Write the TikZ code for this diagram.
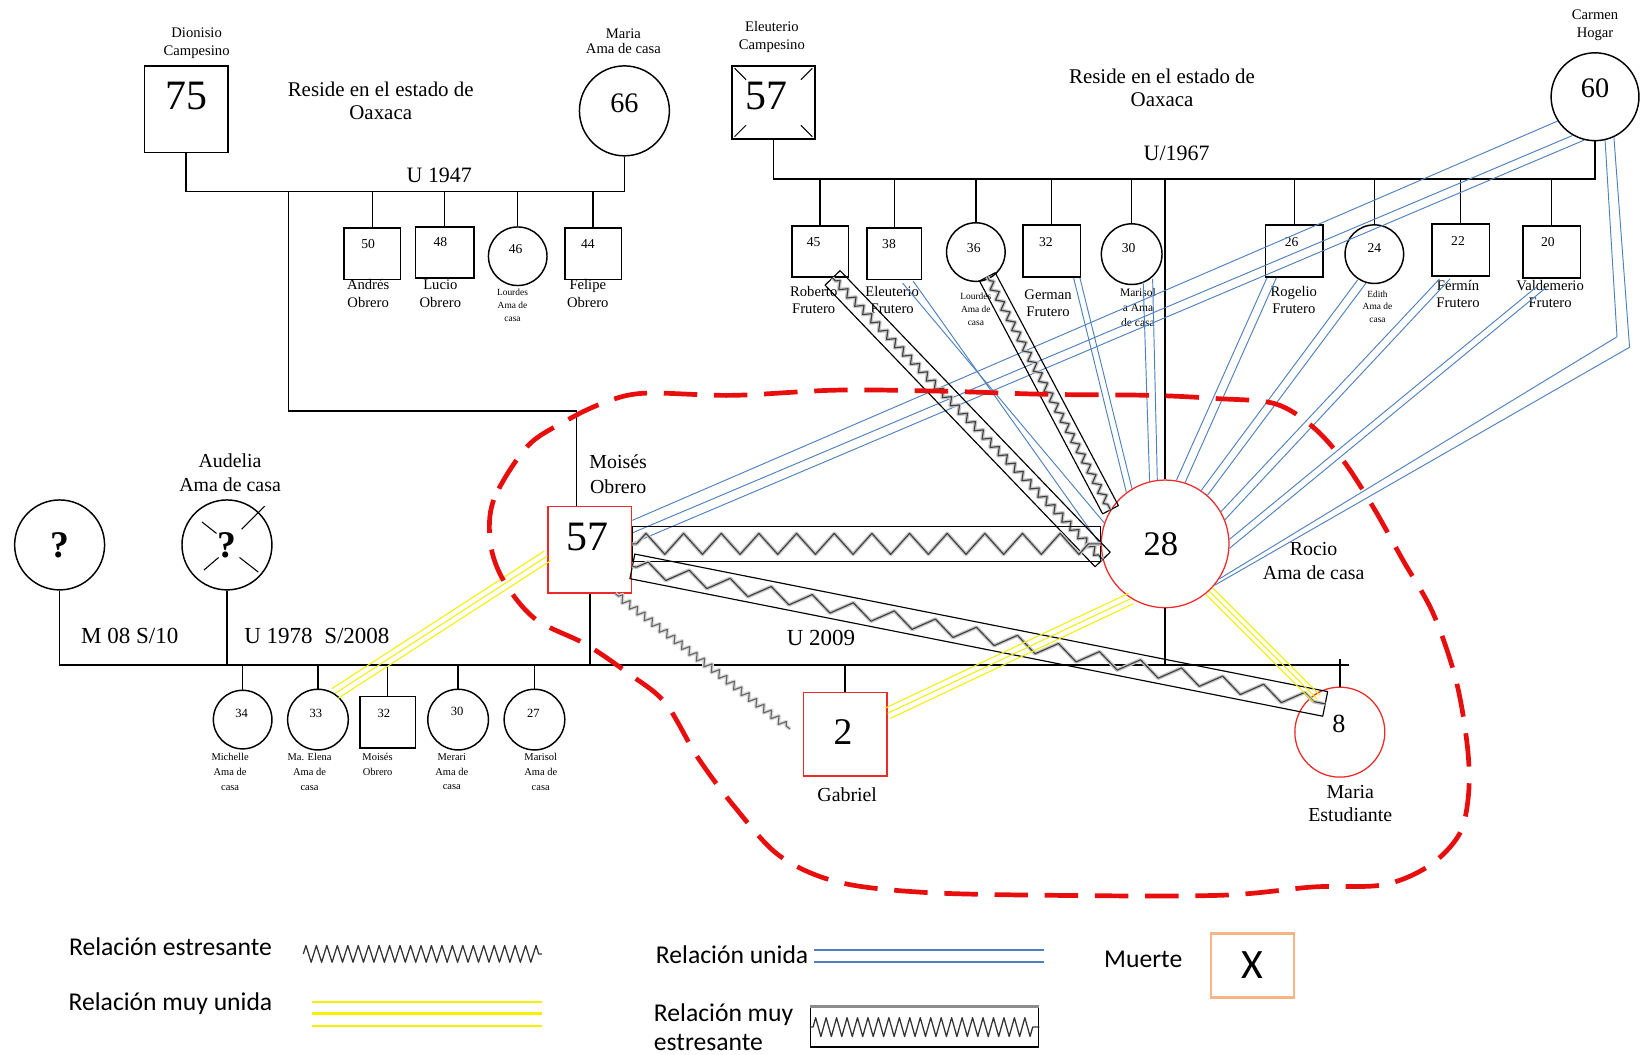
\documentclass[tikz,border=0pt]{standalone}
\usepackage{fontspec}
\setmainfont{Liberation Serif}
\newfontfamily\legendfont{Carlito}
\usetikzlibrary{calc,decorations.pathmorphing}

\definecolor{unidaBlue}{RGB}{79,129,189}
\definecolor{muyYellow}{RGB}{245,240,0}
\definecolor{dashRed}{RGB}{232,14,14}
\definecolor{boxRed}{RGB}{240,40,40}
\definecolor{deathOrange}{RGB}{246,180,135}

% three parallel lines: very close relation
\newcommand\ttriple[3]{%
  \draw[muyunida] (#1) -- (#2);
  \draw[muyunida] ($(#1)!#3!90:(#2)$) -- ($(#2)!#3!-90:(#1)$);
  \draw[muyunida] ($(#1)!#3!-90:(#2)$) -- ($(#2)!#3!90:(#1)$);}

% long thin box with a zigzag inside: very stressful relation
\newcommand\stressbox[5]{%
  \draw[boxline] ($(#1)!#3!90:(#2)$) -- ($(#2)!#3!-90:(#1)$) --
                 ($(#2)!#3!90:(#1)$) -- ($(#1)!#3!-90:(#2)$) -- cycle;
  \draw[zzshade={#4}{#5}] (#1) -- (#2);
  \draw[zzline={#4}{#5}] (#1) -- (#2);}

\tikzset{
  box/.style 2 args={draw=black, line width=1.4pt, rectangle, inner sep=0pt,
                     minimum width=#1, minimum height=#2},
  disc/.style={draw=black, line width=1.4pt, circle, inner sep=0pt, minimum size=#1},
  redbox/.style 2 args={draw=boxRed, line width=1.2pt, rectangle, inner sep=0pt,
                     minimum width=#1, minimum height=#2},
  reddisc/.style={draw=boxRed, line width=1.2pt, circle, inner sep=0pt, minimum size=#1},
  tx/.style 2 args={inner sep=0pt, align=center, font=\fontsize{#1}{#2}\selectfont},
  lg/.style={inner sep=0pt, align=center, font=\legendfont\fontsize{24.5}{28}\selectfont},
  fam/.style={draw=black, line width=1.4pt},
  unida/.style={draw=unidaBlue, line width=0.9pt},
  muyunida/.style={draw=muyYellow, line width=1pt},
  boxline/.style={draw=black, line width=1.1pt, line join=round},
  zzline/.style 2 args={draw=black!75, line width=1.1pt, line join=round, decorate,
     decoration={zigzag, amplitude=#1, segment length=#2, pre length=4pt, post length=4pt}},
  zzshade/.style 2 args={draw=black!22, line width=3.6pt, line join=round, decorate,
     decoration={zigzag, amplitude=#1, segment length=#2, pre length=4pt, post length=4pt}},
  reddash/.style={draw=dashRed, line width=4.5pt, dash pattern=on 32pt off 16pt}
}

\begin{document}
\begin{tikzpicture}[x=1pt,y=-1pt]
\fill[white] (0,0) rectangle (1568,1008);
\useasboundingbox (0,0) rectangle (1568,1008);

% ================= Paternal grandparents =================
\node[box={80pt}{83pt}] (dion) at (178,104.5) {};
\node[tx={40}{40}] (n75) at (178,92) {75};
\node[tx={14}{17}] (ldion) at (188,41.5) {Dionisio\\Campesino};
\node[disc=86pt] (mariaA) at (597,106) {};
\node[tx={27}{27}] (n66) at (597,99) {66};
\node[tx={14}{15}] (lmariaA) at (596,39.5) {Maria\\Ama de casa};
\node[tx={20}{22}] (oax1) at (364,96) {Reside en el estado de\\Oaxaca};
\coordinate (ua) at (0,183);
\draw[fam] (dion.south) -- (dion.south |- ua) -- (mariaA.south |- ua) -- (mariaA.south);
\node[tx={21}{21}] (u1947) at (420,168) {U 1947};

\node[box={54pt}{49pt}] (andres) at (356,242.5) {};
\node[tx={13}{13}] (n50) at (352,233) {50};
\node[tx={14}{17}] (landres) at (352,280.5) {Andrés\\Obrero};
\node[box={56pt}{49pt}] (lucio) at (425,241.5) {};
\node[tx={13}{13}] (n48) at (421,231) {48};
\node[tx={14}{17}] (llucio) at (421,280.5) {Lucio\\Obrero};
\node[disc=56pt] (lourdesA) at (495,245) {};
\node[tx={13}{13}] (n46) at (493,238) {46};
\node[tx={9}{12.5}] (llourdesA) at (490,291.5) {Lourdes\\Ama de\\casa};
\node[box={54pt}{49pt}] (felipe) at (567,242.5) {};
\node[tx={13}{13}] (n44) at (562,233) {44};
\node[tx={14}{17}] (lfelipe) at (562,280.5) {Felipe\\Obrero};
\foreach \c in {andres,lucio,lourdesA,felipe} \draw[fam] (\c.north) -- (\c.north |- ua);

% ================= Maternal grandparents =================
\node[box={79pt}{70pt}] (eleu) at (739.5,98) {};
\draw[fam, line width=1pt] ($(eleu.north west)+(3,3)$) -- ($(eleu.north west)+(14,14)$);
\draw[fam, line width=1pt] ($(eleu.north east)+(-3,3)$) -- ($(eleu.north east)+(-14,14)$);
\draw[fam, line width=1pt] ($(eleu.south west)+(3,-3)$) -- ($(eleu.south west)+(14,-14)$);
\draw[fam, line width=1pt] ($(eleu.south east)+(-3,-3)$) -- ($(eleu.south east)+(-14,-14)$);
\node[tx={40}{40}] (n57a) at (733,92) {57};
\node[tx={14}{17}] (leleu) at (738,35.5) {Eleuterio\\Campesino};
\node[disc=84pt] (carmen) at (1525,92.5) {};
\node[tx={27}{27}] (n60) at (1525,84) {60};
\node[tx={14}{17}] (lcarmen) at (1525,24.5) {Carmen\\Hogar};
\node[tx={20}{22}] (oax2) at (1111,84) {Reside en el estado de\\Oaxaca};
\coordinate (ub) at (0,171);
\draw[fam] (eleu.south) -- (eleu.south |- ub) -- (carmen.south |- ub) -- (carmen.south);
\node[tx={21}{21}] (u1967) at (1125,147) {U/1967};

\node[box={54pt}{49pt}] (roberto) at (784,240.5) {};
\node[tx={13}{13}] (n45) at (778,231) {45};
\node[tx={14}{16}] (lroberto) at (778,287) {Roberto\\Frutero};
\node[box={52pt}{49pt}] (eleuH) at (855,242.5) {};
\node[tx={13}{13}] (n38) at (850,233) {38};
\node[tx={14}{16}] (leleuH) at (853,287) {Eleuterio\\Frutero};
\node[disc=56pt] (lourdesB) at (933,241) {};
\node[tx={13}{13}] (n36) at (931,237) {36};
\node[tx={9}{12.5}] (llourdesB) at (933,296) {Lourdes\\Ama de\\casa};
\node[box={55pt}{50pt}] (german) at (1005.5,240) {};
\node[tx={13}{13}] (n32a) at (1000,231) {32};
\node[tx={14}{16}] (lgerman) at (1002,290) {German\\Frutero};
\node[disc=58pt] (marisolB) at (1082,243) {};
\node[tx={13}{13}] (n30a) at (1079,237) {30};
\node[tx={11}{14}] (lmarisolB) at (1088,294) {Marisol\\a Ama\\de casa};
\node[box={55pt}{50pt}] (rogelio) at (1237.5,240) {};
\node[tx={13}{13}] (n26) at (1235,231) {26};
\node[tx={14}{16}] (lrogelio) at (1237,287) {Rogelio\\Frutero};
\node[disc=56pt] (edith) at (1314,243) {};
\node[tx={13}{13}] (n24) at (1314,237) {24};
\node[tx={9}{12}] (ledith) at (1317,293) {Edith\\Ama de\\casa};
\node[box={55pt}{50pt}] (fermin) at (1396.5,239) {};
\node[tx={13}{13}] (n22) at (1394,230) {22};
\node[tx={14}{16}] (lfermin) at (1394,281) {Fermín\\Frutero};
\node[box={55pt}{50pt}] (valde) at (1483.5,241) {};
\node[tx={13}{13}] (n20) at (1480,231) {20};
\node[tx={14}{16}] (lvalde) at (1482,281) {Valdemerio\\Frutero};
\foreach \c in {roberto,eleuH,lourdesB,german,marisolB,rogelio,edith,fermin,valde}
  \draw[fam] (\c.north) -- (\c.north |- ub);

% ================= Parents' generation =================
\node[redbox={80pt}{83pt}] (moises) at (564,525.5) {};
\node[tx={40}{40}] (n57b) at (562,513) {57};
\node[tx={19}{24}] (lmoises) at (591,453) {Moisés\\Obrero};
\node[reddisc=122pt] (rocio) at (1114,520) {};
\node[tx={33}{33}] (n28) at (1110,520) {28};
\node[tx={19}{23}] (lrocio) at (1256,536.5) {Rocio\\Ama de casa};
\node[disc=86pt] (unk) at (57,521) {};
\node[tx={36}{36}, font=\fontsize{36}{36}\selectfont\bfseries] (q1) at (57,521) {?};
\node[disc=86pt] (audelia) at (217,521) {};
\node[tx={36}{36}, font=\fontsize{36}{36}\selectfont\bfseries] (q2) at (217,521) {?};
\draw[fam, line width=1pt] ($(audelia.center)+(-24,-22)$) -- ($(audelia.center)+(-10,-11)$);
\draw[fam, line width=1pt] ($(audelia.center)+(14,-15)$) -- ($(audelia.center)+(36,-37)$);
\draw[fam, line width=1pt] ($(audelia.center)+(-22,24)$) -- ($(audelia.center)+(-8,12)$);
\draw[fam, line width=1pt] ($(audelia.center)+(12,12)$) -- ($(audelia.center)+(30,26)$);
\node[tx={19}{23}] (laudelia) at (220,451.5) {Audelia\\Ama de casa};

% link of Moisés to his parents
\coordinate (mk) at (551,393);
\coordinate (dk) at (276,183);
\draw[fam] (moises.north -| mk) -- (mk) -- (mk -| dk) -- (dk);
% link of Rocio to her parents
\draw[fam] (rocio.north) -- (rocio.north |- ub);

% ================= Children's generation =================
\coordinate (uc) at (0,636);
\coordinate (ucend) at (1290,636);
\draw[fam] (unk.south) -- (unk.south |- uc) -- (ucend);
\draw[fam] (audelia.south) -- (audelia.south |- uc);
\draw[fam] (moises.south) -- (moises.south |- uc);
\draw[fam] (rocio.south) -- (rocio.south |- uc);
\node[tx={22}{22}] (m08) at (124,608) {M 08 S/10};
\node[tx={22}{22}] (u1978) at (303,608) {U 1978\ \ S/2008};
\node[tx={22}{22}] (u2009) at (785,610) {U 2009};

\node[disc=56pt] (michelle) at (232,688) {};
\node[tx={12}{12}] (n34) at (231,682) {34};
\node[tx={10}{14}] (lmichelle) at (220,738) {Michelle\\Ama de\\casa};
\node[disc=58pt] (elena) at (304,688) {};
\node[tx={12}{12}] (n33) at (302,682) {33};
\node[tx={10}{14}] (lelena) at (296,738) {Ma. Elena\\Ama de\\casa};
\node[box={53pt}{49pt}] (moisesB) at (370.5,690.5) {};
\node[tx={12}{12}] (n32b) at (367,682) {32};
\node[tx={10}{14}] (lmoisesB) at (361,731) {Moisés\\Obrero};
\node[disc=58pt] (merari) at (438,688) {};
\node[tx={12}{12}] (n30b) at (437,680) {30};
\node[tx={10}{14}] (lmerari) at (432,738) {Merari\\Ama de\\casa};
\node[disc=58pt] (marisolC) at (511,688) {};
\node[tx={12}{12}] (n27) at (510,682) {27};
\node[tx={10}{14}] (lmarisolC) at (517,738) {Marisol\\Ama de\\casa};
\foreach \c in {michelle,elena,moisesB,merari,marisolC} \draw[fam] (\c.north) -- (\c.north |- uc);

\node[redbox={80pt}{80pt}] (gabriel) at (808,702) {};
\node[tx={36}{36}] (n2) at (806,700) {2};
\node[tx={19}{19}] (lgabriel) at (810,760) {Gabriel};
\node[reddisc=86pt] (mariaB) at (1281,700) {};
\node[tx={25}{25}] (n8) at (1280,692) {8};
\node[tx={19}{22}] (lmariaB) at (1291,768) {Maria\\Estudiante};
\draw[fam] (gabriel.north) -- (gabriel.north |- uc);
\draw[fam] (mariaB.north) -- ($(mariaB.north |- uc)+(0,-6)$);

% ================= Relations: close (blue double lines) =================
\draw[unida] ($(eleuH.south)+(8,3)$) -- (rocio.161);
\draw[unida] ($(eleuH.south)+(18,1)$) -- (rocio.181);
\draw[unida] ($(german.south)+(21,0)$) -- (rocio.127);
\draw[unida] ($(german.south)+(27,0)$) -- (rocio.121);
\draw[unida] ($(marisolB.south)+(11,-3)$) -- (rocio.104);
\draw[unida] ($(marisolB.south)+(20,-6)$) -- (rocio.97);
\draw[unida] ($(rogelio.south west)+(2,0)$) -- (rocio.80);
\draw[unida] ($(rogelio.south west)+(11,0)$) -- (rocio.72);
\draw[unida] ($(edith.south)+(-16,-4)$) -- (rocio.56);
\draw[unida] ($(edith.south)+(-8,-1)$) -- (rocio.49);
\draw[unida] ($(fermin.south west)+(8,2)$) -- (rocio.30);
\draw[unida] ($(fermin.south west)+(18,2)$) -- (rocio.22);
\draw[unida] ($(valde.south)+(-15,8)$) -- (rocio.4);
\draw[unida] ($(valde.south)+(-5,8)$) -- (rocio.-4);
\coordinate (cbA) at (1546,322);
\coordinate (cbB) at (1558,332);
\draw[unida] (carmen.-77) -- (cbA) -- (rocio.-33);
\draw[unida] (carmen.-65) -- (cbB) -- (rocio.-40);
\draw[unida] (carmen.213) -- ($(moises.east)+(0,-28)$);
\draw[unida] (carmen.240) -- ($(moises.east)+(0,-16)$);
\draw[unida] (carmen.256) -- ($(moises.east)+(0,-6)$);

% ================= Relations: very stressful (boxed zigzag) =================
\coordinate (rbS) at ($(roberto.south)+(12,0)$);
\stressbox{rbS}{rocio.194}{10pt}{3.5pt}{11pt}
\coordinate (lbS) at ($(lourdesB.south)+(11,-5)$);
\stressbox{lbS}{rocio.148}{8.5pt}{3.5pt}{11pt}
\coordinate (mrS) at (moises.east |- rocio.west);
\stressbox{mrS}{rocio.west}{17pt}{10pt}{36pt}
\coordinate (mmS) at ($(moises.east)+(0,16)$);
\coordinate (mmE) at ($(mariaB.center)+(-14,-27)$);
\stressbox{mmS}{mmE}{12pt}{7pt}{40pt}

% stressful (plain zigzag)
\coordinate (mgE) at ($(gabriel.west)+(-12,-5)$);
\draw[zzshade={3.5pt}{9pt}, draw=black!15] (moises.-60) -- (mgE);
\draw[zzline={3.5pt}{9pt}, draw=black!60] (moises.-60) -- (mgE);

% ================= Relations: very close (yellow triple lines) =================
\coordinate (moW) at ($(moises.west)+(0,6)$);
\ttriple{elena.57}{moW}{5.5pt}
\coordinate (gbE) at ($(gabriel.east)+(0,-20)$);
\ttriple{gbE}{rocio.238}{5.5pt}
\coordinate (mbT) at ($(mariaB.center)+(-22,-32)$);
\ttriple{rocio.-47}{mbT}{4.5pt}

% ================= Household boundary =================
\draw[reddash] plot[smooth cycle, tension=0.55] coordinates {
  (504,427) (472,478) (469,520) (482,556) (512,592) (560,616) (601,644)
  (636,672) (667,724) (702,771) (745,818) (800,843) (880,853) (1004,856)
  (1166,856) (1256,848) (1322,846) (1366,828) (1395,798) (1404,760)
  (1403,714) (1392,650) (1370,586) (1341,535) (1313,485) (1284,440)
  (1255,408) (1219,386) (1162,381) (1100,378) (1000,377) (900,374)
  (800,373) (700,378) (615,376) (575,386) (540,403)};

% ================= Legend =================
\node[lg] (lgA) at (163,905) {Relación estresante};
\coordinate (zA1) at (290,912);
\coordinate (zA2) at (518,912);
\draw[zzline={8pt}{10pt}, draw=black!80, line width=1.2pt, decoration={pre length=0pt, post length=0pt}] (zA1) -- (zA2);

\node[lg] (lgB) at (163,960) {Relación muy unida};
\coordinate (yA1) at (298,958); \coordinate (yA2) at (518,958);
\coordinate (yB1) at (298,969); \coordinate (yB2) at (518,969);
\coordinate (yC1) at (298,981); \coordinate (yC2) at (518,981);
\draw[muyunida, line width=2pt] (yA1) -- (yA2);
\draw[muyunida, line width=2pt] (yB1) -- (yB2);
\draw[muyunida, line width=2pt] (yC1) -- (yC2);

\node[lg] (lgC) at (700,913) {Relación unida};
\coordinate (bA1) at (778,908); \coordinate (bA2) at (998,908);
\coordinate (bB1) at (778,920); \coordinate (bB2) at (998,920);
\draw[unida, line width=1.6pt] (bA1) -- (bA2);
\draw[unida, line width=1.6pt] (bB1) -- (bB2);

\node[lg, align=left, anchor=west] (lgD) at (625,982) {Relación muy\\estresante};
\node[draw=black, line width=1.3pt, minimum width=218pt, minimum height=38pt, inner sep=0pt] (lgbox) at (884,982) {};
\draw[black!45, line width=2.5pt] (lgbox.north west) -- (lgbox.north east);
\draw[zzline={9pt}{10pt}, draw=black!80, line width=1.2pt, decoration={pre length=3pt, post length=3pt}] (lgbox.west) -- (lgbox.east);

\node[lg] (lgE) at (1093,917) {Muerte};
\node[draw=deathOrange, line width=2.5pt, minimum width=79pt, minimum height=61pt, inner sep=0pt,
      font=\legendfont\fontsize{40}{40}\selectfont] (death) at (1197.5,923) {X};
\end{tikzpicture}
\end{document}
